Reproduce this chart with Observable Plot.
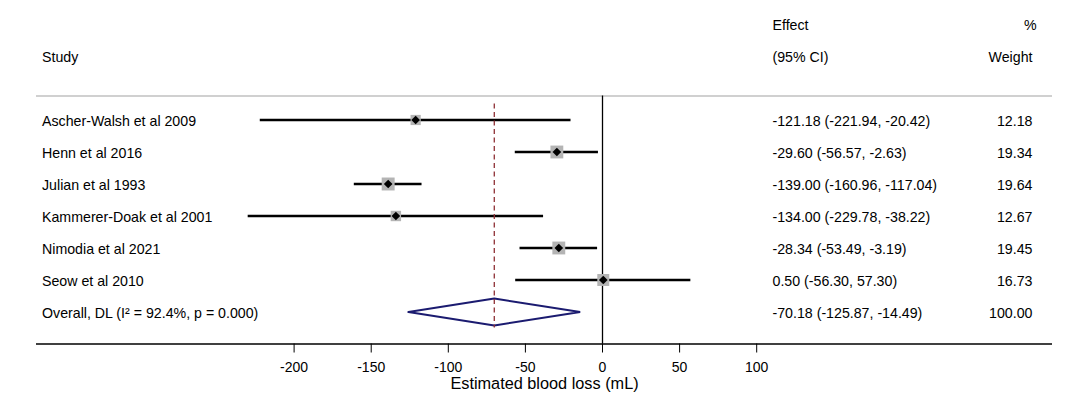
<!DOCTYPE html>
<html>
<head>
<meta charset="utf-8">
<script src="https://cdn.jsdelivr.net/npm/d3@7"></script>
<script src="https://cdn.jsdelivr.net/npm/@observablehq/plot@0.6"></script>
<style>
  html, body { margin: 0; padding: 0; background: #fff; }
</style>
</head>
<body>
<div id="chart"></div>
<script>
// ---- data ----
const studies = [
  "Ascher-Walsh et al 2009",
  "Henn et al 2016",
  "Julian et al 1993",
  "Kammerer-Doak et al 2001",
  "Nimodia et al 2021",
  "Seow et al 2010"
];
const effects = [-121.18, -29.60, -139.00, -134.00, -28.34, 0.50];
const lower   = [-221.94, -56.57, -160.96, -229.78, -53.49, -56.30];
const upper   = [-20.42, -2.63, -117.04, -38.22, -3.19, 57.30];
const weights = [12.18, 19.34, 19.64, 12.67, 19.45, 16.73];

const overallLabel = "Overall, DL (I\u00B2 = 92.4%, p = 0.000)";
const overallEffect = -70.18;
const overallLower = -125.87;
const overallUpper = -14.49;
const overallWeight = 100.00;

const xTicks = [-200, -150, -100, -50, 0, 50, 100];
const xLabel = "Estimated blood loss (mL)";
const headerTop = ["", "Effect", "%"];
const headerBottom = ["Study", "(95% CI)", "Weight"];

// ---- derived tables ----
const fmt = v => v.toFixed(2);
const rows = studies.map((s, i) => ({
  study: s, est: effects[i], lo: lower[i], hi: upper[i], w: weights[i], row: i,
  ci: `${fmt(effects[i])} (${fmt(lower[i])}, ${fmt(upper[i])})`,
  wt: fmt(weights[i])
}));
const overallRow = studies.length;
const overall = {
  study: overallLabel, est: overallEffect, lo: overallLower, hi: overallUpper, row: overallRow,
  ci: `${fmt(overallEffect)} (${fmt(overallLower)}, ${fmt(overallUpper)})`,
  wt: fmt(overallWeight)
};
const allRows = [...rows, overall];
const axisRow = overallRow + 1;
const sepRow = -0.75;
const headRow1 = -3, headRow2 = -2;
const dh = 0.42; // diamond half-height in row units
const diamond = [
  {x: overall.lo, y: overall.row},
  {x: overall.est, y: overall.row - dh},
  {x: overall.hi, y: overall.row},
  {x: overall.est, y: overall.row + dh},
  {x: overall.lo, y: overall.row}
];
const cols = ["study", "effect", "weight"];
const headers = [];
cols.forEach((c, i) => {
  if (headerTop[i]) headers.push({col: c, text: headerTop[i], row: headRow1});
  if (headerBottom[i]) headers.push({col: c, text: headerBottom[i], row: headRow2});
});

const fs = 14.2;
const tdy = 1;
const chart = Plot.plot({
  width: 1080,
  height: 398,
  marginLeft: 36,
  marginRight: 28,
  marginTop: 0,
  marginBottom: 54.5,
  style: {fontFamily: "'Liberation Sans', Arial, sans-serif", fontSize: "14px", background: "#fff", color: "#000"},
  x: {domain: [-367.06, 291.83], ticks: xTicks, tickSize: 9, tickPadding: 9, tickFormat: d => String(d), label: null},
  y: {domain: [axisRow, -3.734], axis: null},
  r: {type: "sqrt", domain: [0, d3.max(weights)], range: [0, 7.3]},
  marks: [
    Plot.ruleY([sepRow], {stroke: "#c0c0c0", strokeWidth: 1.6}),
    Plot.ruleY([axisRow], {stroke: "#000", strokeWidth: 1.5}),
    Plot.ruleX([0], {y1: sepRow, y2: axisRow, stroke: "#000", strokeWidth: 1.3}),
    Plot.ruleY(rows, {y: "row", x1: "lo", x2: "hi", stroke: "#000", strokeWidth: 2.5}),
    Plot.dot(rows, {x: "est", y: "row", r: "w", symbol: "square", fill: "#b4b4b4", stroke: "none"}),
    Plot.dot(rows, {x: "est", y: "row", r: 3.9, symbol: "diamond2", fill: "#000", stroke: "none"}),
    Plot.line(diamond, {x: "x", y: "y", stroke: "#1b1b70", strokeWidth: 2, curve: "linear", strokeLinejoin: "miter"}),
    Plot.ruleX([overall], {x: "est", y1: d => -0.5, y2: d => d.row + 0.5, stroke: "#8e2f35", strokeWidth: 1.3, strokeDasharray: "5,3.5"}),
    // text columns
    Plot.text(allRows, {y: "row", text: "study", frameAnchor: "left", lineAnchor: "middle", dx: 5.5, dy: tdy, textAnchor: "start", fontSize: fs}),
    Plot.text(allRows, {y: "row", text: "ci", frameAnchor: "right", lineAnchor: "middle", dx: -280, dy: tdy, textAnchor: "start", fontSize: fs}),
    Plot.text(allRows, {y: "row", text: "wt", frameAnchor: "right", lineAnchor: "middle", dx: -20, dy: tdy, textAnchor: "end", fontSize: fs}),
    Plot.text(headers.filter(h => h.col === "study"), {y: "row", text: "text", frameAnchor: "left", lineAnchor: "middle", dx: 5.5, dy: tdy, textAnchor: "start", fontSize: fs}),
    Plot.text(headers.filter(h => h.col === "effect"), {y: "row", text: "text", frameAnchor: "right", lineAnchor: "middle", dx: -280, dy: tdy, textAnchor: "start", fontSize: fs}),
    Plot.text(headers.filter(h => h.col === "weight" && h.row === headRow2), {y: "row", text: "text", frameAnchor: "right", lineAnchor: "middle", dx: -20, dy: tdy, textAnchor: "end", fontSize: fs}),
    Plot.text(headers.filter(h => h.col === "weight" && h.row === headRow1), {y: "row", text: "text", frameAnchor: "right", lineAnchor: "middle", dx: -16, dy: tdy, textAnchor: "end", fontSize: fs}),
    // axis title
    Plot.text([xLabel], {frameAnchor: "bottom", lineAnchor: "middle", dy: 40, fontSize: 16.3})
  ]
});
document.getElementById("chart").appendChild(chart);
</script>
</body>
</html>
